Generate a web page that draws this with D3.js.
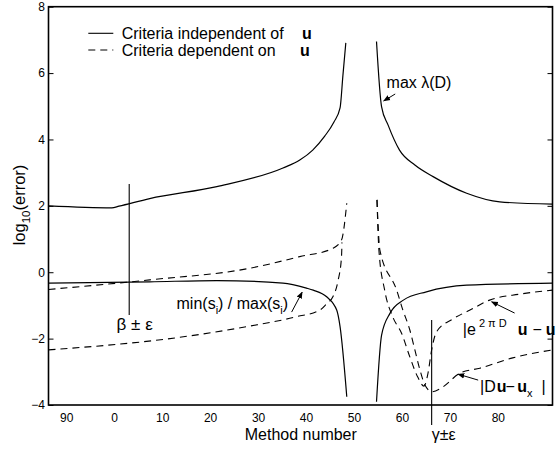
<!DOCTYPE html>
<html>
<head>
<meta charset="utf-8">
<script src="https://cdn.jsdelivr.net/npm/d3@7"></script>
<style>
body { margin: 0; background: #fff; }
text { font-family: "Liberation Sans", Arial, sans-serif; fill: #000; }
</style>
</head>
<body>
<svg id="chart"></svg>
<script>
const width = 558;
const height = 449;
const margin = {left: 48.5, right: 5.5, top: 6.7, bottom: 44};

// tick values and the labels printed under them
const xTickValues = [-10, 0, 10, 20, 30, 40, 50, 60, 70, 80];
const xTickLabels = ["90", "0", "10", "20", "30", "40", "50", "60", "70", "80"];
const yTickValues = [-4, -2, 0, 2, 4, 6, 8];

// solid: criteria independent of u  ([method number, log10(error)])
const maxLambdaLeft = [[-13.7, 2.0], [-0.5, 1.94], [1.0, 1.99], [7.4, 2.22], [21.4, 2.58], [35.2, 3.14], [38.7, 3.38], [41.4, 3.68], [43.9, 4.1], [45.8, 4.52], [47.1, 4.95], [47.7, 5.94], [48.3, 6.91]];
const maxLambdaRight = [[54.7, 6.95], [55.75, 4.99], [57.1, 4.44], [59.5, 3.68], [62.7, 3.23], [66.5, 2.88], [73.5, 2.38], [80.4, 2.12], [91.4, 2.05]];
const condLeft = [[-13.7, -0.33], [7.4, -0.29], [21.4, -0.25], [35.2, -0.33], [40.1, -0.48], [41.5, -0.54], [44.3, -0.74], [46.4, -1.14], [47.1, -1.64], [48.5, -3.75]];
const condRight = [[54.7, -3.9], [55.75, -1.9], [57.5, -1.24], [60.3, -0.84], [65.1, -0.59], [73.5, -0.39], [91.4, -0.33]];

// dashed: criteria dependent on u
const depUpperLeft = [[-13.7, -0.52], [7.4, -0.23], [28.3, 0.12], [38.7, 0.47], [45.6, 0.72], [47.4, 0.97], [48.5, 2.08]];
const depLowerLeft = [[-13.7, -2.34], [13.7, -1.96], [27.6, -1.64], [38.0, -1.34], [42.9, -1.14], [44.35, -0.94], [45.6, -0.74], [46.7, -0.24], [47.4, 0.46], [47.5, 0.9]];
const expRight = [[54.8, 2.18], [55.2, 0.67], [56.4, -0.54], [58.1, -1.35], [59.9, -1.83], [61.65, -2.55], [63.3, -3.16], [64.6, -3.43], [65.4, -3.07], [66.2, -2.34], [67.2, -1.8], [70.6, -1.41], [74.2, -1.14], [78.3, -0.84], [84.6, -0.66], [91.4, -0.54]];
const derivRight = [[54.8, 2.18], [55.4, 0.67], [58.9, -0.54], [60.2, -1.14], [61.65, -1.74], [62.7, -2.34], [63.75, -2.94], [64.8, -3.4], [66.24, -3.6], [68.5, -3.46], [72.1, -3.04], [76.25, -2.89], [83.1, -2.58], [91.4, -2.34]];

// the two epsilon bands: [method number, low, high]
const betaBand = [3.13, -1.29, 2.66];
const gammaBand = [66.2, -4.6, -1.44];

const svg = d3.select("#chart")
  .attr("width", width)
  .attr("height", height);

const x = d3.scaleLinear()
  .domain([-13.7, 91.4])
  .range([margin.left, width - margin.right]);

const y = d3.scaleLinear()
  .domain([-4, 8])
  .range([height - margin.bottom, margin.top]);

svg.append("defs").append("marker")
  .attr("id", "head")
  .attr("viewBox", "0 0 10 10")
  .attr("refX", 9).attr("refY", 5)
  .attr("markerWidth", 7).attr("markerHeight", 7)
  .attr("markerUnits", "userSpaceOnUse")
  .attr("orient", "auto")
  .append("path")
  .attr("d", "M0,1 L10,5 L0,9 z")
  .attr("fill", "#000");

// axes
const xAxis = d3.axisBottom(x)
  .tickValues(xTickValues)
  .tickFormat((d, i) => xTickLabels[i])
  .tickSize(0)
  .tickPadding(8);

svg.append("g")
  .attr("transform", "translate(0," + (height - margin.bottom) + ")")
  .call(xAxis)
  .call(g => g.select(".domain").remove())
  .selectAll("text").attr("font-size", 12).attr("font-family", null);

const yAxis = d3.axisLeft(y)
  .tickValues(yTickValues)
  .tickFormat(d => d < 0 ? "\u2212" + Math.abs(d) : d)
  .tickSizeInner(-5)
  .tickSizeOuter(0)
  .tickPadding(3.5);

svg.append("g")
  .attr("transform", "translate(" + margin.left + ",0)")
  .call(yAxis)
  .call(g => g.select(".domain").remove())
  .selectAll("text").attr("font-size", 12).attr("font-family", null);

svg.append("g")
  .attr("transform", "translate(" + (width - margin.right) + ",0)")
  .call(d3.axisRight(y).tickValues(yTickValues).tickFormat("").tickSizeInner(-5).tickSizeOuter(0))
  .call(g => g.select(".domain").remove());

svg.append("rect")
  .attr("x", margin.left)
  .attr("y", margin.top)
  .attr("width", width - margin.left - margin.right)
  .attr("height", height - margin.top - margin.bottom)
  .attr("fill", "none")
  .attr("stroke", "#000")
  .attr("stroke-width", 1.6);

// curves
const line = d3.line()
  .x(d => x(d[0]))
  .y(d => y(d[1]))
  .curve(d3.curveMonotoneX);

const solid = [maxLambdaLeft, maxLambdaRight, condLeft, condRight];
const dashed = [depUpperLeft, depLowerLeft, expRight, derivRight];

svg.append("g").selectAll("path")
  .data(solid)
  .enter()
  .append("path")
  .attr("d", line)
  .attr("fill", "none")
  .attr("stroke", "#000")
  .attr("stroke-width", 1.2);

svg.append("g").selectAll("path")
  .data(dashed)
  .enter()
  .append("path")
  .attr("d", line)
  .attr("fill", "none")
  .attr("stroke", "#000")
  .attr("stroke-width", 1.1)
  .attr("stroke-dasharray", "7,5");

// epsilon bands
svg.append("g").selectAll("line")
  .data([betaBand, gammaBand])
  .enter()
  .append("line")
  .attr("x1", d => x(d[0])).attr("x2", d => x(d[0]))
  .attr("y1", d => y(d[1])).attr("y2", d => y(d[2]))
  .attr("stroke", "#000")
  .attr("stroke-width", 1.1);

const greek = svg.append("g")
  .attr("font-family", "Liberation Serif, serif");

greek.append("text")
  .attr("x", x(0.5)).attr("y", y(-1.74))
  .attr("font-size", 17)
  .text("\u03b2 \u00b1 \u03b5");

greek.append("text")
  .attr("x", x(66.2)).attr("y", y(-4) + 35)
  .attr("font-size", 16)
  .text("\u03b3\u00b1\u03b5");

// annotations
const ann = svg.append("g").attr("font-size", 16);

ann.append("text")
  .attr("x", x(56.8)).attr("y", y(5.54))
  .text("max \u03bb(D)");

const minmax = ann.append("text")
  .attr("x", x(13.0)).attr("y", y(-1.11));
minmax.append("tspan").text("min(s");
minmax.append("tspan").attr("font-size", 11).attr("dy", 5).text("i");
minmax.append("tspan").attr("dy", -5).text(") / max(s");
minmax.append("tspan").attr("font-size", 11).attr("dy", 5).text("i");
minmax.append("tspan").attr("dy", -5).text(")");

const expo = ann.append("text")
  .attr("x", x(72.7)).attr("y", y(-1.89));
expo.append("tspan").text("|e");
expo.append("tspan").attr("font-size", 11).attr("dy", -8).attr("dx", 3).text("2 \u03c0 D");
expo.append("tspan").attr("dy", 8).attr("dx", 11).attr("font-weight", "bold").text("u");
expo.append("tspan").attr("dx", 5).text("\u2212");
expo.append("tspan").attr("dx", 4).attr("font-weight", "bold").text("u");

const deriv = ann.append("text")
  .attr("x", x(76.3)).attr("y", y(-3.6));
deriv.append("tspan").text("|D");
deriv.append("tspan").attr("dx", 1).attr("font-weight", "bold").text("u");
deriv.append("tspan").attr("dx", -1).text("\u2212");
deriv.append("tspan").attr("dx", 2.4).attr("font-weight", "bold").text("u");
deriv.append("tspan").attr("font-size", 11).attr("dy", 5).text("x");
deriv.append("tspan").attr("dy", -5).attr("dx", 9).text("|");

const arrows = [
  [[58.6, 5.37], [56.2, 5.16]],
  [[37.0, -1.2], [39.2, -0.6]],
  [[83.5, -1.23], [78.7, -0.89]],
  [[75.9, -3.25], [71.7, -3.07]]
];

svg.append("g").selectAll("line")
  .data(arrows)
  .enter()
  .append("line")
  .attr("x1", d => x(d[0][0])).attr("y1", d => y(d[0][1]))
  .attr("x2", d => x(d[1][0])).attr("y2", d => y(d[1][1]))
  .attr("stroke", "#000")
  .attr("stroke-width", 1)
  .attr("marker-end", "url(#head)");

// legend
const legend = svg.append("g").attr("font-size", 16);
const legendItems = [
  {label: "Criteria independent of", dash: null, ux: 302},
  {label: "Criteria dependent on", dash: "7,5", ux: 300}
];
legendItems.forEach((item, i) => {
  const ly = 33.3 + i * 16.7;
  legend.append("line")
    .attr("x1", 88.3).attr("x2", 113.3)
    .attr("y1", ly).attr("y2", ly)
    .attr("stroke", "#000")
    .attr("stroke-width", 1.1)
    .attr("stroke-dasharray", item.dash);
  legend.append("text")
    .attr("x", 121.7).attr("y", ly + 5.5)
    .text(item.label);
  legend.append("text")
    .attr("x", item.ux).attr("y", ly + 5.5)
    .attr("font-weight", "bold")
    .text("u");
});

// axis titles
svg.append("text")
  .attr("x", 300.8).attr("y", 440)
  .attr("text-anchor", "middle")
  .attr("font-size", 16)
  .text("Method number");

const ylab = svg.append("text")
  .attr("transform", "translate(25,205) rotate(-90)")
  .attr("text-anchor", "middle")
  .attr("font-size", 16.5);
ylab.append("tspan").text("log");
ylab.append("tspan").attr("font-size", 11.5).attr("dy", 5).text("10");
ylab.append("tspan").attr("dy", -5).text("(error)");
</script>
</body>
</html>
